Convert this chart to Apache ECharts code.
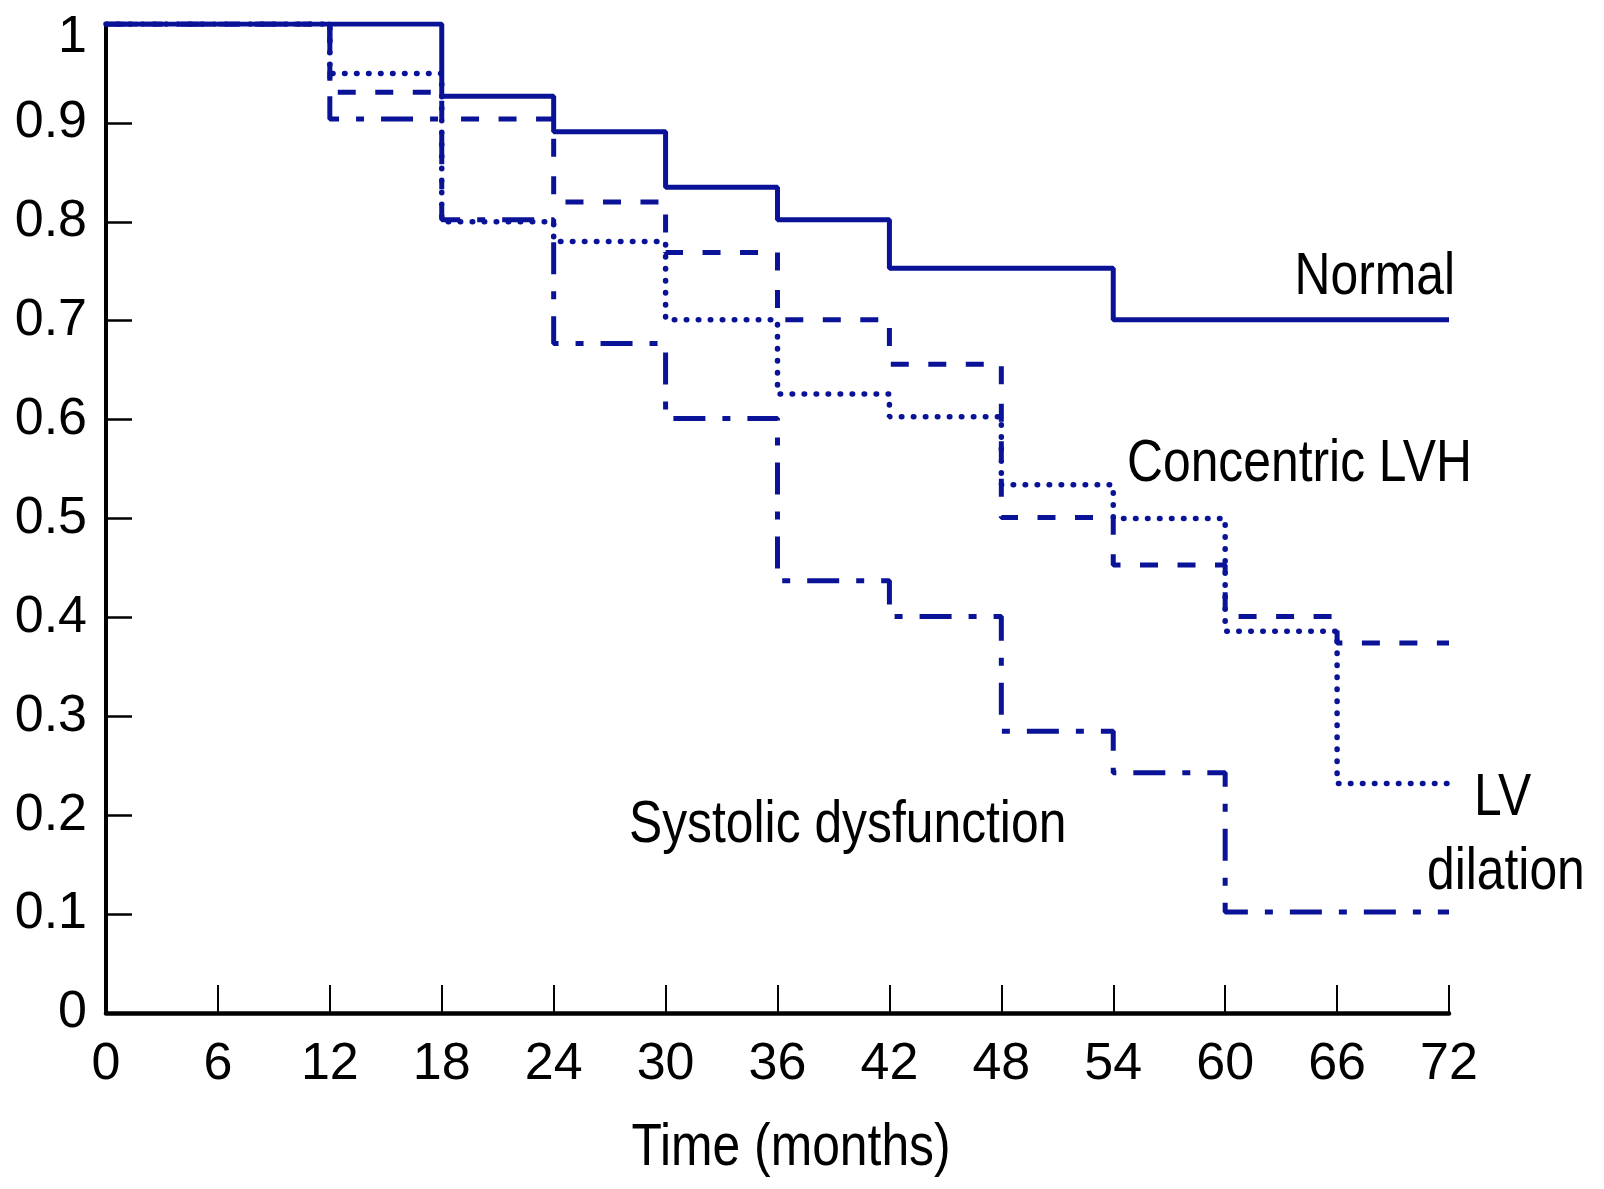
<!DOCTYPE html>
<html>
<head>
<meta charset="utf-8">
<script src="https://cdn.jsdelivr.net/npm/echarts@6/dist/echarts.min.js"></script>
<style>
  html, body { margin: 0; padding: 0; background: #ffffff; }
  #chart { width: 1604px; height: 1189px; }
</style>
</head>
<body>
<div id="chart"></div>
<script>
// Follow-up time points (months); each survival value holds until the next point.
const months = [0, 6, 12, 18, 24, 30, 36, 42, 48, 54, 60, 66, 72];

// Cumulative survival by left-ventricular geometry group
const normal              = [1, 1, 1,     0.927, 0.891, 0.835, 0.802, 0.753, 0.753, 0.701, 0.701, 0.701, 0.701];
const concentricLVH       = [1, 1, 0.931, 0.904, 0.820, 0.769, 0.701, 0.656, 0.501, 0.453, 0.401, 0.374, 0.374];
const lvDilation          = [1, 1, 0.950, 0.800, 0.780, 0.701, 0.626, 0.603, 0.534, 0.500, 0.386, 0.232, 0.232];
const systolicDysfunction = [1, 1, 0.904, 0.802, 0.677, 0.601, 0.437, 0.401, 0.285, 0.243, 0.102, 0.102, 0.102];

// Tick positions
const xTicks = [6, 12, 18, 24, 30, 36, 42, 48, 54, 60, 66, 72];
const yTicks = [0.1, 0.2, 0.3, 0.4, 0.5, 0.6, 0.7, 0.8, 0.9];

const INK = '#000000';
const LINE = '#0a1398';
const FONT = "'Liberation Sans', Arial, Helvetica, sans-serif";
const FS_TICK = 52;
const FS_TEXT = 60;
const SQUEEZE = 0.83;   // condensed lettering for the annotations

function pairs(values) {
  return months.map((m, i) => [m, values[i]]);
}

function stepSeries(name, values, lineStyle, z) {
  return {
    name: name,
    type: 'line',
    step: 'end',
    data: pairs(values),
    showSymbol: false,
    symbol: 'none',
    silent: true,
    z: z,
    lineStyle: Object.assign({ color: LINE, width: 5 }, lineStyle)
  };
}

function note(text, x, y, align) {
  return {
    type: 'text',
    x: x,
    y: y,
    scaleX: SQUEEZE,
    silent: true,
    style: {
      text: text,
      fill: INK,
      fontSize: FS_TEXT,
      fontFamily: FONT,
      align: align,
      verticalAlign: 'middle'
    }
  };
}

const chart = echarts.init(document.getElementById('chart'), null, { renderer: 'canvas' });

chart.setOption({
  animation: false,
  backgroundColor: '#ffffff',
  grid: { left: 106, right: 155, top: 24, bottom: 176, containLabel: false },
  xAxis: {
    type: 'value',
    min: 0,
    max: 72,
    interval: 6,
    axisLine: { show: true, onZero: false, lineStyle: { color: INK, width: 4.5 } },
    axisTick: { show: true, inside: true, length: 28, customValues: xTicks, lineStyle: { color: INK, width: 2 } },
    axisLabel: { color: INK, fontSize: FS_TICK, fontFamily: FONT, margin: 26 },
    splitLine: { show: false }
  },
  yAxis: {
    type: 'value',
    min: 0,
    max: 1,
    interval: 0.1,
    axisLine: { show: true, onZero: false, lineStyle: { color: INK, width: 4 } },
    axisTick: { show: true, inside: true, length: 26, customValues: yTicks, lineStyle: { color: INK, width: 2.5 } },
    axisLabel: {
      color: INK,
      fontSize: FS_TICK,
      fontFamily: FONT,
      margin: 19,
      // the top label sits a little lower, clear of the axis end
      formatter: function (v) { return v === 1 ? '{one|1}' : String(v); },
      rich: { one: { color: INK, fontSize: FS_TICK, fontFamily: FONT, padding: [28, 0, 0, 0] } }
    },
    splitLine: { show: false }
  },
  series: [
    stepSeries('Systolic dysfunction', systolicDysfunction, { type: [32, 17, 8, 17], cap: 'butt' }, 2),
    stepSeries('LV dilation', lvDilation, { type: [0.5, 11.5], cap: 'round', width: 5.5 }, 3),
    stepSeries('Concentric LVH', concentricLVH, { type: [18, 19.5], cap: 'butt' }, 4),
    stepSeries('Normal', normal, { type: 'solid' }, 5)
  ],
  graphic: [
    note('Normal', 1455, 277, 'right'),
    note('Concentric LVH', 1127, 464, 'left'),
    note('Systolic dysfunction', 629, 825, 'left'),
    note('LV', 1474, 798, 'left'),
    note('dilation', 1427, 872, 'left'),
    note('Time (months)', 791, 1148, 'center')
  ]
});
</script>
</body>
</html>
